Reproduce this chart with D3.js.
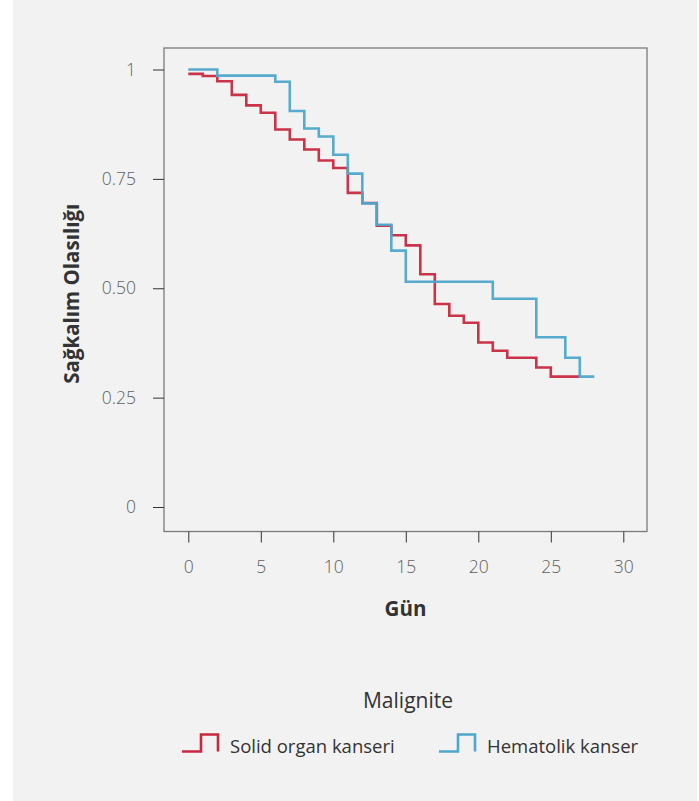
<!DOCTYPE html>
<html>
<head>
<meta charset="utf-8">
<script src="https://cdn.jsdelivr.net/npm/d3@7"></script>
<style>
  body { margin: 0; background: #fff; }
  svg { display: block; font-family: "Open Sans", "Noto Sans", sans-serif; }
</style>
</head>
<body>
<svg width="699" height="801"></svg>
<script>
// survival steps (day, probability)
const solidDays = [0, 1, 2, 3, 4, 5, 6, 7, 8, 9, 10, 11, 12, 13, 14, 15, 16, 17, 18, 19, 20, 21, 22, 24, 25, 27];
const solidSurv = [0.99, 0.985, 0.973, 0.942, 0.918, 0.901, 0.863, 0.84, 0.817, 0.792, 0.775, 0.718, 0.695, 0.643, 0.621, 0.598, 0.532, 0.464, 0.437, 0.421, 0.376, 0.357, 0.341, 0.319, 0.298, 0.298];
const hemaDays = [0, 2, 6, 7, 8, 9, 10, 11, 12, 13, 14, 15, 21, 24, 26, 27, 28];
const hemaSurv = [1.0, 0.986, 0.972, 0.905, 0.865, 0.847, 0.805, 0.762, 0.694, 0.645, 0.586, 0.515, 0.476, 0.388, 0.341, 0.298, 0.298];

const xTicks = [0, 5, 10, 15, 20, 25, 30];
const yTicks = [0, 0.25, 0.5, 0.75, 1];
const yTickLabels = ["0", "0.25", "0.50", "0.75", "1"];
const seriesNames = ["Solid organ kanseri", "Hematolik kanser"];
const seriesColors = ["#c8283f", "#4ea7cc"];

const svg = d3.select("svg");

svg.append("rect")
    .attr("x", 13).attr("y", 0)
    .attr("width", 684).attr("height", 801)
    .attr("fill", "#f2f2f2");

const frame = { left: 164, right: 647, top: 48, bottom: 531.5 };

const x = d3.scaleLinear().domain([0, 30]).range([188.3, 623.3]);
const y = d3.scaleLinear().domain([0, 1]).range([507, 69.5]);

// panel border
svg.append("rect")
    .attr("x", frame.left).attr("y", frame.top)
    .attr("width", frame.right - frame.left)
    .attr("height", frame.bottom - frame.top)
    .attr("fill", "none")
    .attr("stroke", "#7a7a7a")
    .attr("stroke-width", 1.3);

// y axis
const yAxis = svg.append("g")
    .attr("transform", `translate(${frame.left},0)`)
    .call(d3.axisLeft(y).tickValues(yTicks).tickSize(11).tickPadding(17)
        .tickFormat((d, i) => yTickLabels[i]));
yAxis.select(".domain").remove();
yAxis.selectAll(".tick line").attr("stroke", "#333");
yAxis.selectAll(".tick text")
    .attr("fill", "#606060")
    .style("font-size", "17.5px")
    .style("font-weight", 300)
    .style("font-family", "'Open Sans', sans-serif");

// x axis
const xAxis = svg.append("g")
    .attr("transform", `translate(0,${frame.bottom})`)
    .call(d3.axisBottom(x).tickValues(xTicks).tickSize(11).tickPadding(18));
xAxis.select(".domain").remove();
xAxis.selectAll(".tick line").attr("stroke", "#333");
xAxis.selectAll(".tick text")
    .attr("fill", "#606060")
    .style("font-size", "17.5px")
    .style("font-weight", 300)
    .style("font-family", "'Open Sans', sans-serif");

// axis titles
svg.append("text")
    .attr("x", (frame.left + frame.right) / 2)
    .attr("y", 615.5)
    .attr("text-anchor", "middle")
    .attr("fill", "#333")
    .style("font-size", "20.5px")
    .style("font-weight", 700)
    .text("Gün");

svg.append("text")
    .attr("transform", `translate(79,${(frame.top + frame.bottom) / 2 + 4}) rotate(-90)`)
    .attr("text-anchor", "middle")
    .attr("fill", "#333")
    .style("font-size", "20.5px")
    .style("font-weight", 700)
    .text("Sağkalım Olasılığı");

// survival curves
const line = d3.line()
    .x(d => x(d[0]))
    .y(d => y(d[1]))
    .curve(d3.curveStepAfter);

const series = [
    d3.zip(solidDays, solidSurv),
    d3.zip(hemaDays, hemaSurv)
];

svg.selectAll(".curve")
    .data(series)
    .enter()
    .append("path")
    .attr("class", "curve")
    .attr("d", line)
    .attr("fill", "none")
    .attr("stroke", (d, i) => seriesColors[i])
    .attr("stroke-width", 2.6)
    .attr("stroke-opacity", 0.95);

// legend
svg.append("text")
    .attr("x", 408)
    .attr("y", 708)
    .attr("text-anchor", "middle")
    .attr("fill", "#333")
    .style("font-size", "21px")
    .text("Malignite");

const legendX = [182, 439];
const legend = svg.selectAll(".legend")
    .data(seriesNames)
    .enter()
    .append("g")
    .attr("class", "legend")
    .attr("transform", (d, i) => `translate(${legendX[i]},0)`);

legend.append("path")
    .attr("d", "M0,751.5 H19 V734.5 H36 V751.5")
    .attr("fill", "none")
    .attr("stroke", (d, i) => seriesColors[i])
    .attr("stroke-width", 2.6);

legend.append("text")
    .attr("x", 48)
    .attr("y", 752.5)
    .attr("fill", "#333")
    .style("font-size", "18.5px")
    .text(d => d);
</script>
</body>
</html>
